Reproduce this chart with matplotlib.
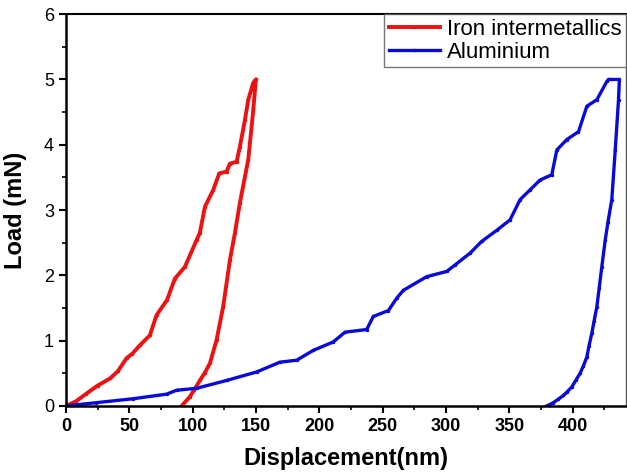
import numpy as np
import matplotlib
matplotlib.use("Agg")
import matplotlib.pyplot as plt
from matplotlib.ticker import MultipleLocator

plt.rcParams['font.family'] = ['Liberation Sans', 'DejaVu Sans']

# Iron intermetallics: loading then unloading (displacement nm, load mN)
fe_x = [0, 8.0, 16.3, 25.0, 34.8, 41.0, 47.9, 52.5, 58.5, 66.3, 71.6, 79.8, 86.1, 94.0,
        103.2, 105.8, 109.8, 116.4, 121.1, 126.9, 129.5, 134.8, 137.4, 141.4, 144.0,
        148.0, 150.0,
        150.0, 148.0, 144.0, 137.4, 133.5, 129.5, 124.2, 119.0, 113.7, 109.5, 105.8,
        101.5, 97.9, 91.4]
fe_y = [0, 0.07, 0.19, 0.31, 0.42, 0.53, 0.73, 0.80, 0.93, 1.08, 1.39, 1.62, 1.95, 2.13,
        2.54, 2.65, 3.05, 3.31, 3.56, 3.59, 3.71, 3.74, 3.97, 4.38, 4.69,
        4.95, 5.0,
        5.0, 4.54, 3.77, 3.11, 2.65, 2.23, 1.52, 1.01, 0.65, 0.50, 0.39,
        0.25, 0.14, 0.0]

# Aluminium: loading, hold, unloading
al_x = [0, 24.2, 53.2, 79.5, 87.4, 103.2, 126.9, 150.6, 169.0, 182.2, 195.3, 211.1,
        220.4, 237.5, 242.7, 254.6, 261.2, 266.4, 284.9, 300.7, 307.3, 319.1, 328.3,
        340.2, 350.7, 358.6, 366.5, 374.4, 383.6, 387.6, 395.5, 404.7, 411.3, 419.2,
        427.1, 428.4, 437.0,
        436.3, 433.7, 431.0, 428.0, 425.8, 423.1, 421.0, 419.2, 417.0, 415.2, 413.0,
        411.3, 408.5, 406.0, 402.5, 399.4, 396.0, 392.8, 388.5, 384.9, 379.7]
al_y = [0, 0.05, 0.11, 0.18, 0.24, 0.27, 0.39, 0.52, 0.67, 0.70, 0.85, 0.98,
        1.13, 1.17, 1.37, 1.46, 1.65, 1.77, 1.98, 2.06, 2.16, 2.34, 2.52,
        2.69, 2.85, 3.16, 3.31, 3.46, 3.54, 3.92, 4.08, 4.20, 4.59, 4.69,
        4.97, 5.0, 5.0,
        4.69, 3.92, 3.16, 2.82, 2.54, 2.13, 1.80, 1.52, 1.30, 1.11, 0.92,
        0.75, 0.61, 0.50, 0.39, 0.29, 0.22, 0.16, 0.10, 0.05, 0.0]

fig = plt.figure(figsize=(6.27, 4.72), dpi=100)
ax = fig.add_axes([0.105, 0.14, 0.893, 0.83])

ax.plot(fe_x, fe_y, color='#ee1111', lw=2.8, marker='.', ms=3, label='Iron intermetallics')
ax.plot(al_x, al_y, color='#0a0ad8', lw=2.4, marker='.', ms=3, label='Aluminium')

ax.set_xlim(0, 442)
ax.set_ylim(0, 6)
ax.xaxis.set_major_locator(MultipleLocator(50))
ax.xaxis.set_minor_locator(MultipleLocator(25))
ax.yaxis.set_major_locator(MultipleLocator(1))
ax.yaxis.set_minor_locator(MultipleLocator(0.5))
ax.tick_params(which='major', direction='out', length=5, width=1.5, labelsize=13)
ax.tick_params(which='minor', direction='out', length=3, width=1.2)
for lab in ax.get_xticklabels():
    lab.set_fontweight('bold')

for s in ['left', 'bottom']:
    ax.spines[s].set_linewidth(1.8)
ax.spines['top'].set_linewidth(1.5)
ax.spines['right'].set_linewidth(1.0)
ax.spines['right'].set_color('#555555')

ax.set_xlabel('Displacement(nm)', fontsize=17, fontweight='bold', labelpad=9)
ax.set_ylabel('Load (mN)', fontsize=17, fontweight='bold', labelpad=12)

leg = ax.legend(loc='upper right', fontsize=16, frameon=True, fancybox=False,
                borderaxespad=0, handlelength=2.3, labelspacing=0.1,
                borderpad=0.2, handletextpad=0.3)
leg.get_frame().set_edgecolor('#555555')
leg.get_frame().set_linewidth(1.0)

plt.savefig('out.png', dpi=100)
